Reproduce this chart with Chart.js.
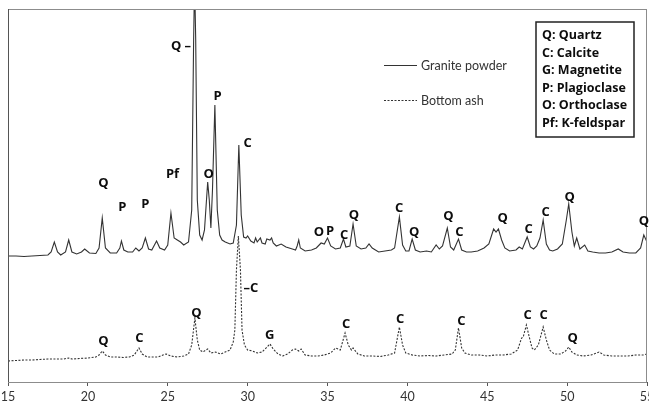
<!DOCTYPE html>
<html>
<head>
<meta charset="utf-8">
<script src="https://cdn.jsdelivr.net/npm/chart.js@4/dist/chart.umd.min.js"></script>
<style>
  html, body { margin: 0; padding: 0; background: #fff; }
  #wrap { width: 649px; height: 403px; }
</style>
</head>
<body>
<div id="wrap"><canvas id="xrdChart"></canvas></div>
<script>
// XRD traces (2-theta vs. counts, granite trace is offset upward)
const graniteTheta = [
  15.0, 15.5, 16.0, 16.5, 17.0, 17.5, 17.7, 17.9, 18.1, 18.3,
  18.6, 18.8, 19.0, 19.3, 19.6, 19.8, 20.1, 20.5, 20.7, 20.9,
  21.1, 21.4, 21.8, 22.0, 22.1, 22.25, 22.5, 22.8, 23.0, 23.2,
  23.4, 23.6, 23.8, 24.0, 24.3, 24.5, 24.8, 25.0, 25.2, 25.4,
  25.6, 25.8, 26.0, 26.3, 26.5, 26.62, 26.68, 26.75, 26.85, 27.0,
  27.15, 27.3, 27.5, 27.6, 27.7, 27.8, 27.95, 28.1, 28.25, 28.4,
  28.6, 28.9, 29.1, 29.3, 29.45, 29.6, 29.75, 29.9, 30.0, 30.2,
  30.4, 30.5, 30.6, 30.8, 30.9, 31.1, 31.2, 31.4, 31.5, 31.6,
  31.8, 32.1, 32.4, 32.8, 33.0, 33.1, 33.2, 33.3, 33.6, 34.0,
  34.3, 34.6, 34.8, 35.0, 35.2, 35.5, 35.8, 36.0, 36.15, 36.4,
  36.6, 36.8, 37.1, 37.4, 37.6, 37.8, 38.2, 38.6, 39.0, 39.2,
  39.5, 39.7, 39.9, 40.1, 40.3, 40.5, 40.8, 41.2, 41.5, 41.8,
  42.0, 42.2, 42.5, 42.7, 42.9, 43.2, 43.4, 43.7, 44.0, 44.4,
  44.8, 45.1, 45.4, 45.55, 45.7, 45.9, 46.1, 46.4, 46.8, 47.0,
  47.2, 47.5, 47.7, 47.9, 48.1, 48.3, 48.5, 48.7, 48.9, 49.1,
  49.4, 49.7, 49.95, 50.1, 50.3, 50.45, 50.6, 50.8, 51.1, 51.3,
  51.6, 52.0, 52.4, 52.8, 53.2, 53.5, 53.9, 54.3, 54.6, 54.8,
  55.0
];
const graniteCounts = [
  124, 124, 123.5, 124, 124.5, 125, 128, 138, 128, 125,
  128, 140, 128, 126, 128, 131, 127, 126.5, 132, 162,
  132, 127, 127, 132, 139, 130, 128, 128, 132, 129,
  132, 142, 131, 130, 139, 132, 130, 135, 167, 142,
  140, 138, 135, 138, 170, 340, 400, 340, 180, 145,
  140, 150, 198, 180, 152, 190, 275, 170, 145, 140,
  138, 136, 137, 155, 235, 165, 143, 142, 144, 139,
  137, 142, 138, 142, 137, 136, 141, 140, 142, 137,
  134, 136, 133, 131, 130, 134, 140, 132, 129, 130,
  132, 137, 136, 142, 134, 131, 132, 141, 133, 134,
  156, 134, 131, 132, 136, 132, 128, 129, 130, 132,
  163, 135, 129, 129, 141, 130, 128, 129, 128, 135,
  131, 134, 152, 133, 130, 141, 130, 128, 128, 129,
  132, 136, 151, 148, 151, 140, 132, 129, 130, 133,
  131, 143, 133, 131, 134, 142, 160, 136, 130, 129,
  131, 136, 160, 176, 148, 134, 142, 131, 135, 129,
  128, 127, 127, 128, 131, 128, 127, 127, 132, 145,
  138
];
const ashTheta = [
  15.0, 15.5, 16.0, 16.5, 17.0, 17.5, 18.0, 18.5, 18.8, 19.0,
  19.5, 20.0, 20.5, 20.7, 20.9, 21.1, 21.4, 21.8, 22.2, 22.6,
  22.9, 23.2, 23.4, 23.7, 24.0, 24.4, 24.7, 24.9, 25.2, 25.6,
  26.0, 26.3, 26.5, 26.7, 26.85, 27.0, 27.2, 27.5, 27.7, 28.0,
  28.3, 28.6, 28.9, 29.1, 29.2, 29.3, 29.42, 29.55, 29.65, 29.8,
  30.0, 30.3, 30.6, 30.9, 31.1, 31.4, 31.6, 31.9, 32.2, 32.5,
  32.8, 33.0, 33.2, 33.35, 33.6, 34.0, 34.4, 34.8, 35.2, 35.5,
  35.8, 36.1, 36.3, 36.5, 36.6, 36.9, 37.3, 37.8, 38.3, 38.8,
  39.2, 39.35, 39.5, 39.7, 39.9, 40.3, 40.8, 41.3, 41.8, 42.3,
  42.8, 43.0, 43.2, 43.4, 43.6, 44.0, 44.5, 45.0, 45.5, 46.0,
  46.5, 46.9, 47.15, 47.25, 47.45, 47.6, 47.8, 47.95, 48.2, 48.5,
  48.7, 48.9, 49.2, 49.6, 49.9, 50.1, 50.3, 50.6, 51.0, 51.5,
  52.0, 52.3, 52.8, 53.3, 53.8, 54.3, 54.8, 55.0
];
const ashCounts = [
  19, 19.5, 20, 20, 20.5, 21, 21, 21, 22, 21,
  21.5, 22, 23, 25, 29, 25, 23, 23, 22.5, 23,
  25, 32, 26, 23, 23, 23, 25, 26, 24, 23,
  24, 26, 35, 62, 40, 30, 28, 31, 27, 28,
  26, 28, 30, 38, 50, 110, 144, 110, 50, 35,
  30, 29, 27, 28, 31, 36, 31, 26, 24, 26,
  30, 31, 29, 31, 25, 24, 24, 25, 27, 32,
  30, 47, 35, 30, 32, 26, 24, 24, 23.5, 25,
  27, 40, 53, 35, 27, 25, 24, 24.5, 24, 25,
  26, 30, 52, 32, 27, 25, 25, 24, 25, 25,
  26, 30, 42, 43, 55, 45, 32, 30, 35, 53,
  40, 30, 26, 26, 29, 33, 28, 25, 24, 25,
  28, 25, 24, 24, 24, 25, 25, 26
];
const xTicks = [15, 20, 25, 30, 35, 40, 45, 50, 55];

// phase markers placed at (2-theta, counts)
const phaseText = [
  'Q', 'P', 'P', 'Pf', 'Q \u2013', 'O', 'P', 'C', 'O', 'P',
  'C', 'Q', 'C', 'Q', 'Q', 'C', 'Q', 'C', 'C', 'Q', 'Q',
  'Q', 'C', 'Q', '\u2013C', 'G', 'C', 'C', 'C', 'C', 'C', 'Q'
];
const phaseTheta = [
  20.97, 22.16, 23.6, 25.3, 25.83, 27.56, 28.12, 30.0, 34.47, 35.16,
  36.04, 36.66, 39.49, 40.43, 42.57, 43.26, 45.96, 47.59, 48.66, 50.16, 54.81,
  20.97, 23.23, 26.8, 30.2, 31.39, 36.16, 39.55, 43.38, 47.53, 48.53, 50.35
];
const phaseCounts = [
  197, 173, 176, 206, 334, 206, 284, 237, 148, 149,
  145, 165, 172, 148, 164, 148, 162, 151, 168, 183, 159,
  39, 42, 67, 92, 45, 56, 61, 59, 65, 65, 42
];
const phaseKey = ['Q: Quartz', 'C: Calcite', 'G: Magnetite', 'P: Plagioclase', 'O: Orthoclase', 'Pf: K-feldspar'];

const overlay = {
  id: 'overlay',
  afterDatasetsDraw(chart) {
    const { ctx, chartArea: a, scales: { x, y } } = chart;
    ctx.save();

    // plot frame
    ctx.strokeStyle = '#8c8c8c';
    ctx.lineWidth = 1;
    ctx.strokeRect(a.left + 0.5, a.top + 0.5, a.right - a.left - 1, a.bottom - a.top);
    ctx.strokeStyle = '#555';
    ctx.beginPath();
    ctx.moveTo(a.left + 0.5, a.top);
    ctx.lineTo(a.left + 0.5, a.bottom);
    ctx.stroke();

    // phase letters
    ctx.fillStyle = '#0d0d0d';
    ctx.font = 'bold 13px "Open Sans"';
    ctx.textAlign = 'center';
    ctx.textBaseline = 'middle';
    phaseText.forEach((t, i) => {
      ctx.fillText(t, x.getPixelForValue(phaseTheta[i]), y.getPixelForValue(phaseCounts[i]));
    });

    // series legend
    ctx.textAlign = 'left';
    ctx.font = '12.5px Lato';
    chart.data.datasets.forEach((ds, i) => {
      const ly = 65.5 + i * 35;
      ctx.strokeStyle = ds.borderColor;
      ctx.lineWidth = 1;
      ctx.setLineDash(ds.borderDash || []);
      ctx.beginPath();
      ctx.moveTo(384, ly);
      ctx.lineTo(417, ly);
      ctx.stroke();
      ctx.setLineDash([]);
      ctx.fillStyle = '#333';
      ctx.fillText(ds.label, 421, ly);
    });

    // phase key box
    ctx.strokeStyle = '#222';
    ctx.lineWidth = 1.5;
    ctx.strokeRect(536, 22, 98, 115);
    ctx.fillStyle = '#0d0d0d';
    ctx.font = 'bold 12.5px "Open Sans"';
    phaseKey.forEach((t, i) => ctx.fillText(t, 542, 35.5 + i * 17.6));

    ctx.restore();
  }
};

new Chart(document.getElementById('xrdChart'), {
  type: 'line',
  data: {
    datasets: [
      {
        label: 'Granite powder',
        data: graniteTheta.map((t, i) => ({ x: t, y: graniteCounts[i] })),
        borderColor: '#333',
        borderWidth: 1.1,
        pointRadius: 0,
        tension: 0
      },
      {
        label: 'Bottom ash',
        data: ashTheta.map((t, i) => ({ x: t, y: ashCounts[i] })),
        borderColor: '#333',
        borderWidth: 1.1,
        borderDash: [2, 1.5],
        pointRadius: 0,
        tension: 0
      }
    ]
  },
  options: {
    responsive: true,
    maintainAspectRatio: false,
    animation: false,
    devicePixelRatio: 1,
    layout: { padding: { left: 8, right: 2, top: 9, bottom: 0 } },
    plugins: {
      legend: { display: false },
      tooltip: { enabled: false }
    },
    scales: {
      x: {
        type: 'linear',
        min: 15,
        max: 55,
        afterBuildTicks: s => { s.ticks = xTicks.map(v => ({ value: v })); },
        afterFit: s => { s.height = 21; s.paddingLeft = 0; s.paddingRight = 0; },
        border: { display: true, color: '#555', width: 1 },
        grid: { display: true, drawOnChartArea: false, drawTicks: true, tickLength: 4, color: '#555' },
        ticks: {
          color: '#333',
          autoSkip: false,
          maxRotation: 0,
          padding: 3,
          font: { family: 'Lato', size: 12.5 }
        }
      },
      y: {
        display: false,
        min: -2,
        max: 371
      }
    }
  },
  plugins: [overlay]
});
</script>
</body>
</html>
